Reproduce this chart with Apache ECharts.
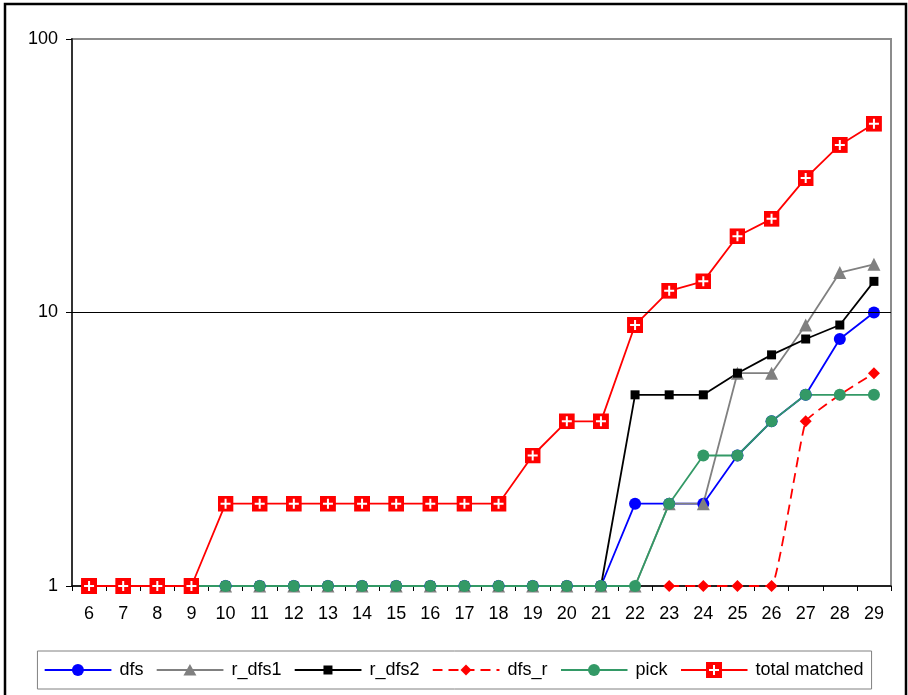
<!DOCTYPE html>
<html>
<head>
<meta charset="utf-8">
<script src="https://cdn.jsdelivr.net/npm/echarts@6/dist/echarts.min.js"></script>
<style>
  html, body { margin: 0; padding: 0; background: #ffffff; }
  #chart { width: 908px; height: 695px; }
</style>
</head>
<body>
<div id="chart"></div>
<script>
// Problem sizes on the x axis
const categories = ['6','7','8','9','10','11','12','13','14','15','16','17','18','19','20','21','22','23','24','25','26','27','28','29'];

// Counts per algorithm (log scale)
const dfs          = [1,1,1,1,1,1,1,1,1,1,1,1,1,1,1,1,2,2,2,3,4,5,8,10];
const r_dfs1       = [1,1,1,1,1,1,1,1,1,1,1,1,1,1,1,1,1,2,2,6,6,9,14,15];
const r_dfs2       = [1,1,1,1,1,1,1,1,1,1,1,1,1,1,1,1,5,5,5,6,7,8,9,13];
const dfs_r        = [null,null,null,null,null,null,null,null,null,null,null,null,null,null,null,null,null,1,1,1,1,4,5,6];
const pick         = [1,1,1,1,1,1,1,1,1,1,1,1,1,1,1,1,1,2,3,3,4,5,5,5];
const totalMatched = [1,1,1,1,2,2,2,2,2,2,2,2,2,3,4,4,9,12,13,19,22,31,41,49];

// Reference line on the log axis
const refLines = [10];

const FONT = '"Liberation Sans", Arial, sans-serif';

function svgUri(w, h, body) {
  return 'image://data:image/svg+xml;utf8,' + encodeURIComponent(
    '<svg xmlns="http://www.w3.org/2000/svg" width="' + w + '" height="' + h +
    '" viewBox="0 0 ' + w + ' ' + h + '">' + body + '</svg>');
}

// Red square with a white cross, drawn at the origin of a 16x16 box
function crossBody(x, y) {
  return '<rect x="' + x + '" y="' + y + '" width="16" height="16" fill="#ff0000"/>' +
         '<path d="M' + (x + 8) + ' ' + (y + 3) + 'v10M' + (x + 3) + ' ' + (y + 8) + 'h10" stroke="#ffffff" stroke-width="2"/>';
}
const crossSquare = svgUri(16, 16, crossBody(0, 0));

// Legend keys: a short line with the series marker in its middle
const KEY_W = 70, KEY_H = 16, LINE_W = 67, CX = 33.5, CY = 8;
function legendKey(color, marker, dashed) {
  let body = '<line x1="0" y1="' + CY + '" x2="' + LINE_W + '" y2="' + CY + '" stroke="' + color +
             '" stroke-width="2"' + (dashed ? ' stroke-dasharray="10,6"' : '') + '/>';
  if (marker === 'circle') {
    body += '<circle cx="' + CX + '" cy="' + CY + '" r="6" fill="' + color + '"/>';
  } else if (marker === 'triangle') {
    body += '<polygon points="' + CX + ',2 ' + (CX - 6.5) + ',13.5 ' + (CX + 6.5) + ',13.5" fill="' + color + '"/>';
  } else if (marker === 'square') {
    body += '<rect x="' + (CX - 4.5) + '" y="' + (CY - 4.5) + '" width="9" height="9" fill="' + color + '"/>';
  } else if (marker === 'diamond') {
    body += '<polygon points="' + CX + ',2.5 ' + (CX + 5.5) + ',8 ' + CX + ',13.5 ' + (CX - 5.5) + ',8" fill="' + color + '"/>';
  } else if (marker === 'cross') {
    body += crossBody(CX - 8, 0);
  }
  return svgUri(KEY_W, KEY_H, body);
}

function lineSeries(name, data, color, symbol, size, extra) {
  return Object.assign({
    name: name,
    type: 'line',
    data: data,
    symbol: symbol,
    symbolSize: size,
    showAllSymbol: true,
    connectNulls: false,
    lineStyle: { color: color, width: 1.8 },
    itemStyle: { color: color },
    emphasis: { disabled: true },
    animation: false
  }, extra || {});
}

const chart = echarts.init(document.getElementById('chart'), null, { renderer: 'canvas' });

chart.setOption({
  backgroundColor: '#ffffff',
  animation: false,
  textStyle: { fontFamily: FONT, color: '#000' },
  graphic: [{
    type: 'rect',
    shape: { x: 5, y: 4, width: 901, height: 710 },
    style: { fill: 'none', stroke: '#000', lineWidth: 2.5 },
    silent: true
  }],
  grid: {
    left: 72, right: 17, top: 39, bottom: 109,
    show: true, borderColor: '#8c8c8c', borderWidth: 2, z: 0
  },
  legend: {
    left: 'center',
    bottom: 6,
    orient: 'horizontal',
    itemWidth: KEY_W,
    itemHeight: KEY_H,
    itemGap: 13,
    padding: [10, 8, 10, 7],
    borderColor: '#808080',
    borderWidth: 1,
    selectedMode: false,
    textStyle: { fontFamily: FONT, fontSize: 18, color: '#000' },
    data: [
      { name: 'dfs', icon: legendKey('#0000ff', 'circle') },
      { name: 'r_dfs1', icon: legendKey('#808080', 'triangle') },
      { name: 'r_dfs2', icon: legendKey('#000000', 'square') },
      { name: 'dfs_r', icon: legendKey('#ff0000', 'diamond', true) },
      { name: 'pick', icon: legendKey('#339966', 'circle') },
      { name: 'total matched', icon: legendKey('#ff0000', 'cross') }
    ]
  },
  xAxis: {
    type: 'category',
    data: categories,
    boundaryGap: true,
    z: 1,
    axisLine: { lineStyle: { color: '#000', width: 1.5 } },
    axisTick: { show: true, inside: false, length: 5, lineStyle: { color: '#000', width: 1 } },
    axisLabel: { fontFamily: FONT, fontSize: 18, color: '#000', margin: 19, interval: 0 },
    splitLine: { show: false }
  },
  yAxis: {
    type: 'log',
    logBase: 10,
    min: 1,
    max: 100,
    z: 1,
    axisLine: { show: true, lineStyle: { color: '#333', width: 2 } },
    axisTick: { show: true, inside: false, length: 6, lineStyle: { color: '#000' } },
    axisLabel: { fontFamily: FONT, fontSize: 18, color: '#000', margin: 14 },
    splitLine: { show: false },
    minorTick: { show: false }
  },
  series: [
    lineSeries('dfs', dfs, '#0000ff', 'circle', 12, {
      markLine: {
        silent: true,
        symbol: 'none',
        label: { show: false },
        lineStyle: { color: '#000', width: 1.2, type: 'solid' },
        data: refLines.map(v => ({ yAxis: v }))
      }
    }),
    lineSeries('r_dfs1', r_dfs1, '#808080', 'triangle', 13),
    lineSeries('r_dfs2', r_dfs2, '#000000', 'rect', 9),
    lineSeries('dfs_r', dfs_r, '#ff0000', 'diamond', 12, {
      smooth: 0.1,
      lineStyle: { color: '#ff0000', width: 1.8, type: [10, 6] }
    }),
    lineSeries('pick', pick, '#339966', 'circle', 12),
    lineSeries('total matched', totalMatched, '#ff0000', crossSquare, 16)
  ]
});
</script>
</body>
</html>
